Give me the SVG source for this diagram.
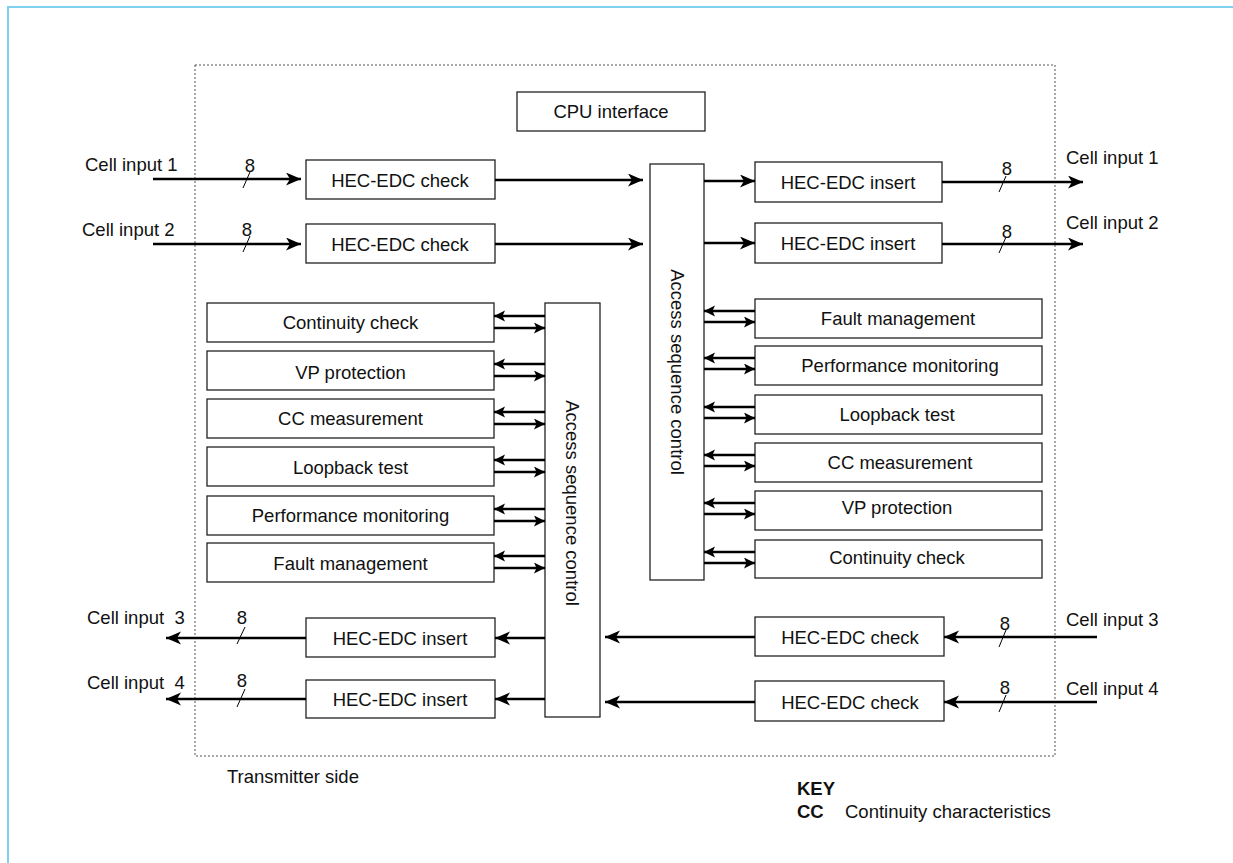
<svg xmlns="http://www.w3.org/2000/svg" width="1233" height="863" viewBox="0 0 1233 863">
  <style>
    text { font-family: "Liberation Sans", Arial, sans-serif; font-size: 18.5px; fill: #111; white-space: pre; }
    .box { fill: #fff; stroke: #222; stroke-width: 1.3; }
    .lbl { text-anchor: middle; dominant-baseline: central; }
    .bus { stroke: #000; stroke-width: 2.6; fill: none; marker-end: url(#big); }
    .pair { stroke: #000; stroke-width: 2.4; fill: none; marker-end: url(#small); }
    .tick { stroke: #000; stroke-width: 1; }
    .bold { font-weight: bold; }
  </style>
  <defs>
    <marker id="big" markerUnits="userSpaceOnUse" markerWidth="16" markerHeight="14" refX="15" refY="6.5" orient="auto">
      <path d="M0,0 L15,6.5 L0,13 L4,6.5 Z" fill="#000"/>
    </marker>
    <marker id="small" markerUnits="userSpaceOnUse" markerWidth="13" markerHeight="12" refX="11" refY="5.5" orient="auto">
      <path d="M0,0 L11,5.5 L0,11 L2.5,5.5 Z" fill="#000"/>
    </marker>
  </defs>

  <!-- page frame -->
  <rect x="8" y="7" width="1240" height="880" fill="#fff" stroke="#80d0ef" stroke-width="2"/>

  <!-- transmitter boundary -->
  <rect id="boundary" x="195" y="65" width="860" height="691" fill="none" stroke="#555" stroke-width="1" stroke-dasharray="2,2"/>

  <g id="cpu"><rect class="box" x="517" y="92" width="188" height="39"/><text class="lbl" x="611" y="111.5">CPU interface</text></g>

  <!-- receive side checks -->
  <g id="chk1"><rect class="box" x="306" y="160" width="189" height="39"/><text class="lbl" x="400" y="180">HEC-EDC check</text></g>
  <g id="chk2"><rect class="box" x="306" y="224" width="189" height="39"/><text class="lbl" x="400" y="244">HEC-EDC check</text></g>

  <!-- access sequence control blocks -->
  <g id="asc-right"><rect class="box" x="650" y="164" width="54" height="416"/><text class="lbl" transform="translate(677,372) rotate(90)" x="0" y="0">Access sequence control</text></g>
  <g id="asc-left"><rect class="box" x="545" y="303" width="55" height="414"/><text class="lbl" transform="translate(572.5,503) rotate(90)" x="0" y="0">Access sequence control</text></g>

  <g id="ins1"><rect class="box" x="755" y="162" width="187" height="40"/><text class="lbl" x="848" y="182">HEC-EDC insert</text></g>
  <g id="ins2"><rect class="box" x="755" y="223" width="187" height="40"/><text class="lbl" x="848" y="243">HEC-EDC insert</text></g>

  <!-- left OAM functions -->
  <g id="l-cc"><rect class="box" x="207" y="303" width="287" height="39"/><text class="lbl" x="350.5" y="322.5">Continuity check</text></g>
  <g id="l-vp"><rect class="box" x="207" y="351" width="287" height="39"/><text class="lbl" x="350.5" y="372">VP protection</text></g>
  <g id="l-ccm"><rect class="box" x="207" y="399" width="287" height="39"/><text class="lbl" x="350.5" y="418">CC measurement</text></g>
  <g id="l-lb"><rect class="box" x="207" y="447" width="287" height="39"/><text class="lbl" x="350.5" y="467">Loopback test</text></g>
  <g id="l-pm"><rect class="box" x="207" y="496" width="287" height="39"/><text class="lbl" x="350.5" y="515.5">Performance monitoring</text></g>
  <g id="l-fm"><rect class="box" x="207" y="543" width="287" height="39"/><text class="lbl" x="350.5" y="563">Fault management</text></g>

  <!-- right OAM functions -->
  <g id="r-fm"><rect class="box" x="755" y="299" width="287" height="39"/><text class="lbl" x="898" y="318.5">Fault management</text></g>
  <g id="r-pm"><rect class="box" x="755" y="346" width="287" height="39"/><text class="lbl" x="900" y="365.5">Performance monitoring</text></g>
  <g id="r-lb"><rect class="box" x="755" y="395" width="287" height="39"/><text class="lbl" x="897" y="414.5">Loopback test</text></g>
  <g id="r-ccm"><rect class="box" x="755" y="443" width="287" height="39"/><text class="lbl" x="900" y="462">CC measurement</text></g>
  <g id="r-vp"><rect class="box" x="755" y="491" width="287" height="39"/><text class="lbl" x="897" y="507">VP protection</text></g>
  <g id="r-cc"><rect class="box" x="755" y="540" width="287" height="38"/><text class="lbl" x="897" y="557">Continuity check</text></g>

  <!-- transmit side -->
  <g id="ins3"><rect class="box" x="306" y="618" width="189" height="39"/><text class="lbl" x="400" y="638">HEC-EDC insert</text></g>
  <g id="ins4"><rect class="box" x="306" y="680" width="189" height="38"/><text class="lbl" x="400" y="699.5">HEC-EDC insert</text></g>
  <g id="chk3"><rect class="box" x="755" y="617" width="189" height="39"/><text class="lbl" x="850" y="637.5">HEC-EDC check</text></g>
  <g id="chk4"><rect class="box" x="755" y="681" width="189" height="40"/><text class="lbl" x="850" y="702">HEC-EDC check</text></g>

  <g id="connectors">
    <!-- cell inputs into checks -->
    <line class="bus" x1="153" y1="179" x2="301" y2="179"/>
    <line class="bus" x1="153" y1="244" x2="301" y2="244"/>
    <line class="bus" x1="495" y1="180" x2="643" y2="180"/>
    <line class="bus" x1="495" y1="244" x2="643" y2="244"/>
    <line class="bus" x1="704" y1="181" x2="755" y2="181"/>
    <line class="bus" x1="704" y1="243" x2="755" y2="243"/>
    <line class="bus" x1="942" y1="182" x2="1083" y2="182"/>
    <line class="bus" x1="942" y1="244" x2="1083" y2="244"/>

    <!-- left function pairs -->
    <line class="pair" x1="545" y1="316" x2="494" y2="316"/><line class="pair" x1="494" y1="328" x2="545" y2="328"/>
    <line class="pair" x1="545" y1="364" x2="494" y2="364"/><line class="pair" x1="494" y1="376" x2="545" y2="376"/>
    <line class="pair" x1="545" y1="412" x2="494" y2="412"/><line class="pair" x1="494" y1="424" x2="545" y2="424"/>
    <line class="pair" x1="545" y1="460" x2="494" y2="460"/><line class="pair" x1="494" y1="472" x2="545" y2="472"/>
    <line class="pair" x1="545" y1="509" x2="494" y2="509"/><line class="pair" x1="494" y1="521" x2="545" y2="521"/>
    <line class="pair" x1="545" y1="556" x2="494" y2="556"/><line class="pair" x1="494" y1="568" x2="545" y2="568"/>

    <!-- right function pairs -->
    <line class="pair" x1="755" y1="311" x2="704" y2="311"/><line class="pair" x1="704" y1="322" x2="755" y2="322"/>
    <line class="pair" x1="755" y1="358" x2="704" y2="358"/><line class="pair" x1="704" y1="369" x2="755" y2="369"/>
    <line class="pair" x1="755" y1="407" x2="704" y2="407"/><line class="pair" x1="704" y1="418" x2="755" y2="418"/>
    <line class="pair" x1="755" y1="455" x2="704" y2="455"/><line class="pair" x1="704" y1="466" x2="755" y2="466"/>
    <line class="pair" x1="755" y1="503" x2="704" y2="503"/><line class="pair" x1="704" y1="514" x2="755" y2="514"/>
    <line class="pair" x1="755" y1="552" x2="704" y2="552"/><line class="pair" x1="704" y1="563" x2="755" y2="563"/>

    <!-- transmit path -->
    <line class="bus" x1="1097" y1="637" x2="944" y2="637"/>
    <line class="bus" x1="1097" y1="702" x2="944" y2="702"/>
    <line class="bus" x1="755" y1="637" x2="605" y2="637"/>
    <line class="bus" x1="755" y1="702" x2="605" y2="702"/>
    <line class="bus" x1="545" y1="638" x2="495" y2="638"/>
    <line class="bus" x1="545" y1="699" x2="495" y2="699"/>
    <line class="bus" x1="306" y1="638" x2="166" y2="638"/>
    <line class="bus" x1="306" y1="699" x2="166" y2="699"/>

    <!-- bus width ticks -->
    <line class="tick" x1="243" y1="188" x2="250" y2="172"/>
    <line class="tick" x1="243" y1="252" x2="250" y2="236"/>
    <line class="tick" x1="999" y1="192" x2="1006" y2="176"/>
    <line class="tick" x1="999" y1="253" x2="1006" y2="237"/>
    <line class="tick" x1="237" y1="644" x2="245" y2="627"/>
    <line class="tick" x1="237" y1="707" x2="245" y2="689"/>
    <line class="tick" x1="999" y1="647" x2="1006" y2="630"/>
    <line class="tick" x1="999" y1="712" x2="1006" y2="695"/>
  </g>

  <!-- bus width labels -->
  <g id="widths" text-anchor="middle">
    <text x="250" y="172">8</text>
    <text x="247" y="236">8</text>
    <text x="1007" y="175">8</text>
    <text x="1007" y="238">8</text>
    <text x="242" y="624">8</text>
    <text x="242" y="687">8</text>
    <text x="1005" y="630">8</text>
    <text x="1005" y="694">8</text>
  </g>

  <!-- port names -->
  <g id="ports">
    <text x="85" y="171">Cell input 1</text>
    <text x="82" y="236">Cell input 2</text>
    <text x="1066" y="164">Cell input 1</text>
    <text x="1066" y="229">Cell input 2</text>
    <text x="87" y="624">Cell input  3</text>
    <text x="87" y="689">Cell input  4</text>
    <text x="1066" y="626">Cell input 3</text>
    <text x="1066" y="695">Cell input 4</text>
  </g>

  <g id="legend">
    <text x="227" y="783">Transmitter side</text>
    <text class="bold" x="797" y="795">KEY</text>
    <text class="bold" x="797" y="818">CC</text>
    <text x="845" y="818">Continuity characteristics</text>
  </g>
</svg>
